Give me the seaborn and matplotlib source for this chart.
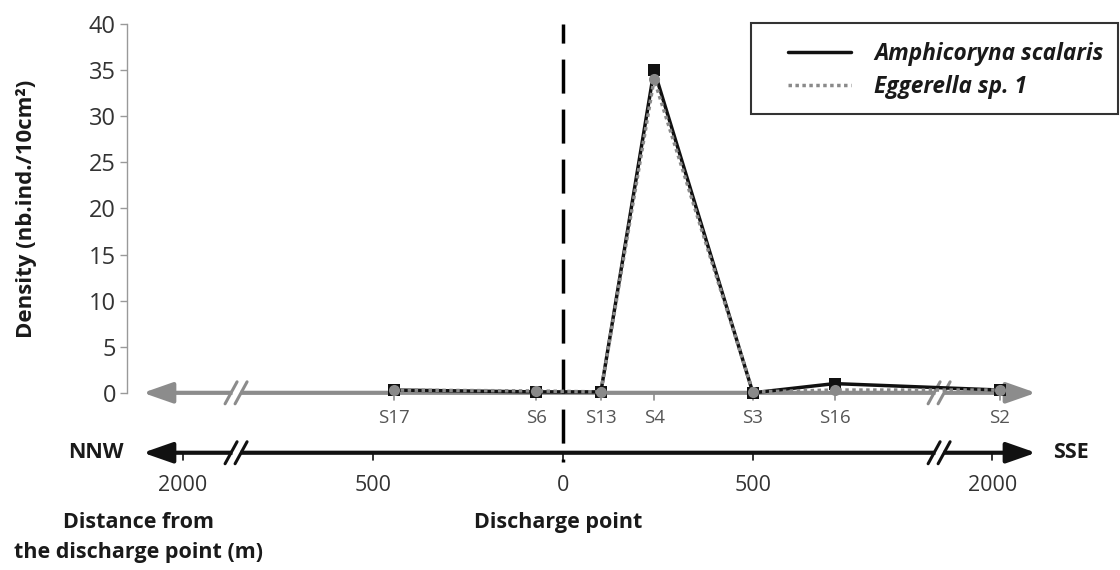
import matplotlib

matplotlib.use("Agg")
import matplotlib.pyplot as plt
import pandas as pd
import seaborn as sns
from matplotlib.lines import Line2D
from matplotlib.patches import Rectangle

# Stations along the transect, NNW -> SSE
stations = ["S17", "S6", "S13", "S4", "S3", "S16", "S2"]
# position along the (broken) transect axis, m from the discharge point (NNW < 0)
station_pos = [-445, -70, 100, 240, 500, 715, 1150]
amphicoryna = [0.3, 0.1, 0.1, 35.0, 0.0, 1.0, 0.3]
eggerella = [0.3, 0.2, 0.1, 34.0, 0.1, 0.3, 0.3]
species = ["Amphicoryna scalaris", "Eggerella sp. 1"]

# distance axis (schematic, broken beyond ~1000 m)
dist_pos = [-1000, -500, 0, 500, 1130]
dist_labels = ["2000", "500", "0", "500", "2000"]
break_pos = [-860, 990]
y_ticks = [0, 5, 10, 15, 20, 25, 30, 35, 40]

W, H = 1120, 570
AX_L, AX_R, AX_T, AX_B = 127, 1120, 24, 568
XLIM = (-1147, 1466)
YLIM = (-19, 40)
PX = (XLIM[1] - XLIM[0]) / (AX_R - AX_L)   # data units per pixel, x
PY = (YLIM[1] - YLIM[0]) / (AX_B - AX_T)   # data units per pixel, y
Y_DIST = -6.5

sns.set_theme(style="white")
plt.rcParams["font.family"] = ["Open Sans", "DejaVu Sans"]

fig = plt.figure(figsize=(W / 100, H / 100), dpi=100)
ax = fig.add_axes([AX_L / W, 1 - AX_B / H, (AX_R - AX_L) / W, (AX_B - AX_T) / H])
ax.set_xlim(*XLIM)
ax.set_ylim(*YLIM)

df = pd.DataFrame({
    "pos": station_pos * 2,
    "density": amphicoryna + eggerella,
    "species": [species[0]] * len(stations) + [species[1]] * len(stations),
})
colors = {species[0]: "#111111", species[1]: "#8a8a8a"}
sns.lineplot(
    data=df, x="pos", y="density", hue="species", style="species",
    hue_order=species, style_order=species, palette=colors,
    dashes={species[0]: "", species[1]: (1, 1)},
    markers={species[0]: "s", species[1]: "o"},
    markersize=8, markeredgewidth=0, linewidth=2.5,
    sort=False, legend=False, ax=ax, zorder=4,
)

# vertical dashed line at the discharge point
ax.plot([0, 0], [40, Y_DIST - 1.0], color="black", lw=2.5,
        linestyle=(4.3, (9.8, 4.6)), zorder=2, clip_on=False)


def axis_arrow(y, color):
    ax.annotate("", xy=(-1105, y), xytext=(1245, y), annotation_clip=False,
                arrowprops=dict(arrowstyle="<|-|>,head_length=1.0,head_width=0.35",
                                mutation_scale=18, lw=3, color=color,
                                shrinkA=0, shrinkB=0), zorder=1)
    # "//" axis breaks
    for bx in break_pos:
        ax.plot([bx - 4 * PX, bx + 4 * PX], [y, y], color="white", lw=5,
                zorder=1.5, solid_capstyle="butt")
        for off in (-5, 5):
            ax.plot([bx + (off - 6) * PX, bx + (off + 6) * PX],
                    [y - 11 * PY, y + 11 * PY], color=color, lw=2.2, zorder=1.6)


axis_arrow(0, "#8c8c8c")
axis_arrow(Y_DIST, "#111111")

# station ticks and labels on the density axis baseline
for name, x in zip(stations, station_pos):
    ax.plot([x, x], [0, -7 * PY], color="#8c8c8c", lw=1.2, zorder=1)
    ax.text(x, -2.7, name, ha="center", va="center", fontsize=13.5, color="#555555")

# distance ticks and labels
for lab, x in zip(dist_labels, dist_pos):
    ax.plot([x, x], [Y_DIST, Y_DIST - 7 * PY], color="#111111", lw=1.2, zorder=1)
    ax.text(x, -10.0, lab, ha="center", va="center", fontsize=15.5, color="#333333")

bold = dict(ha="center", va="center", fontsize=15.5, fontweight="bold", color="#1a1a1a")
ax.text(-1229, Y_DIST, "NNW", **bold)
ax.text(1337, Y_DIST, "SSE", **bold)
ax.text(-1116, -14.1, "Distance from", **bold)
ax.text(-1116, -17.3, "the discharge point (m)", **bold)
ax.text(-13, -14.1, "Discharge point", **bold)

# y axis
ax.set_yticks(y_ticks)
ax.set_xticks([])
ax.set_xlabel("")
ax.set_ylabel("")
ax.tick_params(axis="y", left=True, length=5, width=1, color="#999999",
               labelsize=17, labelcolor="#333333", pad=3)
for side in ("top", "right", "bottom"):
    ax.spines[side].set_visible(False)
ax.spines["left"].set_color("#999999")
ax.spines["left"].set_linewidth(1)
ax.spines["left"].set_bounds(0, 40)
fig.text(27 / W, 1 - 209 / H, "Density (nb.ind./10cm²)", rotation=90,
         ha="center", va="center", fontsize=16, fontweight="bold", color="#1a1a1a")

# legend with a square frame
fig.add_artist(Rectangle((751 / W, 1 - 114 / H), (1118 - 751) / W, 91 / H,
                         transform=fig.transFigure, fill=False,
                         edgecolor="#333333", lw=1.5))
handles = [
    Line2D([], [], color=colors[species[0]], lw=2.5),
    Line2D([], [], color=colors[species[1]], lw=2.5, linestyle=(0, (1, 1))),
]
leg = fig.legend(handles, species, loc="upper left",
                 bbox_to_anchor=(788 / W, 1 - 42 / H), frameon=False,
                 borderpad=0, borderaxespad=0, handlelength=2.8,
                 handletextpad=1.0, labelspacing=0.4,
                 prop={"size": 16.3, "weight": "bold", "style": "italic"})
for t in leg.get_texts():
    t.set_color("#1a1a1a")

fig.savefig("out.png", dpi=100)
